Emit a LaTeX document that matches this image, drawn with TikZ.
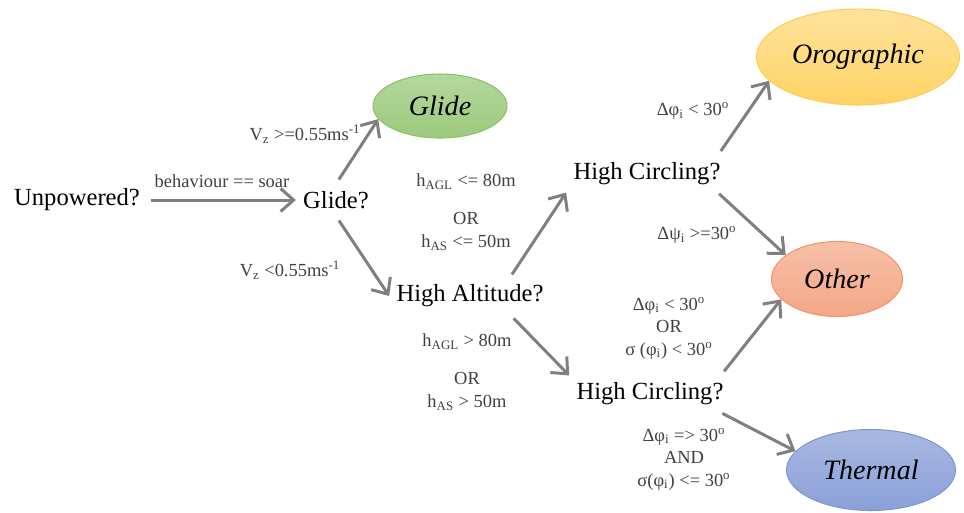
\documentclass[tikz,border=0pt]{standalone}
\usepackage{fontspec}
\setmainfont{Liberation Serif}
\usetikzlibrary{arrows.meta,shapes.geometric}
\definecolor{arrowgray}{RGB}{127,127,127}
\definecolor{condgray}{RGB}{64,64,64}
\definecolor{glideTop}{RGB}{181,215,157}
\definecolor{glideBot}{RGB}{156,202,124}
\definecolor{glideLine}{RGB}{143,191,108}
\definecolor{oroTop}{RGB}{255,227,156}
\definecolor{oroBot}{RGB}{255,211,100}
\definecolor{oroLine}{RGB}{255,204,80}
\definecolor{othTop}{RGB}{246,192,168}
\definecolor{othBot}{RGB}{244,167,134}
\definecolor{othLine}{RGB}{240,150,108}
\definecolor{thmTop}{RGB}{169,184,226}
\definecolor{thmBot}{RGB}{138,160,216}
\definecolor{thmLine}{RGB}{126,150,208}
\tikzset{
  qn/.style={font=\fontsize{14}{16}\selectfont,inner sep=4pt},
  cond/.style={font=\fontsize{10.5}{12.8}\selectfont,text=condgray,align=center,inner sep=1pt},
  leaf/.style n args={3}{ellipse,draw=#1,top color=#2,bottom color=#3,line width=0.6pt,
    inner sep=0pt,font=\fontsize{16}{18}\selectfont\itshape},
  ar/.style={draw=arrowgray,line width=1.7pt,-{Straight Barb[length=2.6mm,width=4.6mm,line width=1.7pt]}},
}
\newcommand{\dg}{\textsuperscript{o}}

\begin{document}
\begin{tikzpicture}[x=0.02cm,y=-0.02cm]
  \useasboundingbox (0,0) rectangle (964,512);
  % question nodes
  \node[qn] (unp) at (77,200) {Unpowered?};
  \node[qn] (glq) at (336,200) {Glide?};
  \node[qn] (hia) at (470,296) {High Altitude?};
  \node[qn] (hc1) at (647,174) {High Circling?};
  \node[qn] (hc2) at (650,394) {High Circling?};

  % classes
  \node[leaf={glideLine}{glideTop}{glideBot},minimum width=2.68cm,minimum height=1.28cm] (glide) at (440,106) {Glide};
  \node[leaf={oroLine}{oroTop}{oroBot},minimum width=4.06cm,minimum height=1.92cm] (oro) at (858,57) {Orographic};
  \node[leaf={othLine}{othTop}{othBot},minimum width=2.62cm,minimum height=1.5cm] (oth) at (837,279) {Other};
  \node[leaf={thmLine}{thmTop}{thmBot},minimum width=3.38cm,minimum height=1.62cm] (thm) at (871,470) {Thermal};

  % connectors
  \draw[ar,shorten <=2pt] (unp) -- (glq);
  \draw[ar,shorten <=3pt] (glq.north) -- (glide.192);
  \draw[ar,shorten <=3pt] (glq.south) -- (hia.west);
  \draw[ar,shorten <=2pt] ([xshift=0.8cm]hia.north) -- (hc1.south west);
  \draw[ar,shorten <=3pt] ([xshift=0.8cm]hia.south) -- (hc2.north west);
  \draw[ar,shorten <=3pt] ([xshift=-0.2cm]hc1.north east) -- (oro.195);
  \draw[ar,shorten <=1pt] ([xshift=-0.2cm]hc1.south east) -- (oth.155);
  \draw[ar,shorten <=3pt] ([xshift=-0.2cm]hc2.north east) -- (oth.200);
  \draw[ar,shorten <=1pt] ([xshift=-0.2cm]hc2.south east) -- (thm.166);

  % conditions
  \node[cond] (vhi) at (305,134) {V\textsubscript{z} >=0.55ms\textsuperscript{-1}};
  \node[cond] (soar) at (222,181) {behaviour == soar};
  \node[cond] (vlo) at (290,270) {V\textsubscript{z} <0.55ms\textsuperscript{-1}};
  \node[cond] (low) at (466,212) {h\textsubscript{AGL} <= 80m\\[9pt] OR\\ h\textsubscript{AS} <= 50m};
  \node[cond] (high) at (467,372) {h\textsubscript{AGL} > 80m\\[9pt] OR\\ h\textsubscript{AS} > 50m};
  \node[cond] (dphi) at (693,111) {Δφ\textsubscript{i} < 30\dg};
  \node[cond] (dpsi) at (697,235) {Δψ\textsubscript{i} >=30\dg};
  \node[cond] (orphi) at (669,328) {Δφ\textsubscript{i} < 30\dg\\ OR\\ σ (φ\textsubscript{i}) < 30\dg};
  \node[cond] (andphi) at (684,459) {Δφ\textsubscript{i} => 30\dg\\ AND\\ σ(φ\textsubscript{i}) <= 30\dg};
\end{tikzpicture}
\end{document}
